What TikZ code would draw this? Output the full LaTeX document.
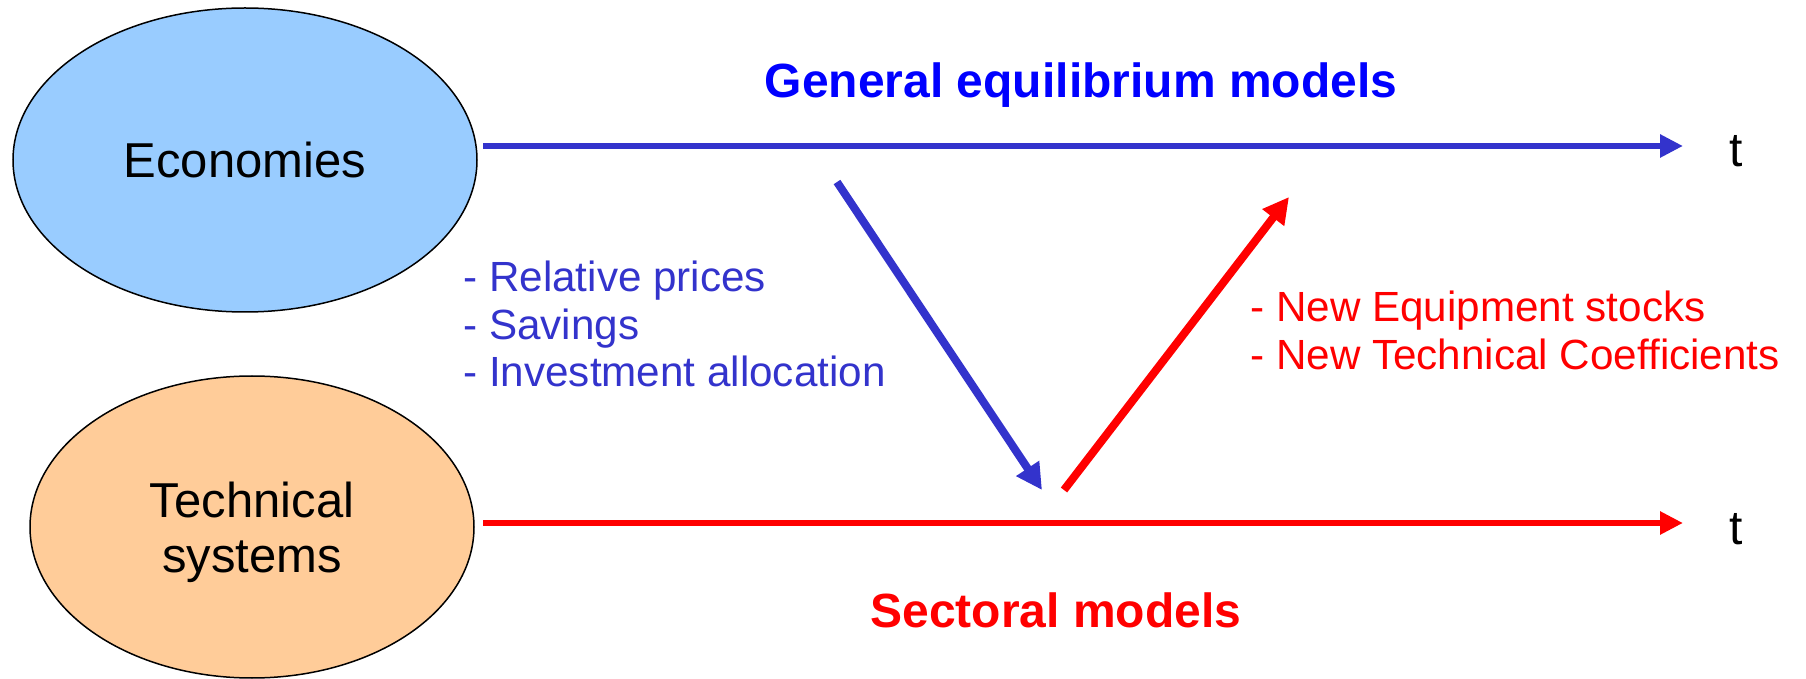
\documentclass[tikz,border=0pt]{standalone}
\usepackage{fontspec}
\setmainfont{Liberation Sans}
\usepackage{xcolor}
\usetikzlibrary{shapes.geometric}
\usetikzlibrary{arrows.meta}
\definecolor{lineblue}{RGB}{51,51,204}
\definecolor{skyfill}{RGB}{153,204,255}
\definecolor{peachfill}{RGB}{255,204,153}
\tikzstyle{blob} = [ellipse, draw=black, line width=0.75pt, align=center, font=\fontsize{24.5}{27.5}\selectfont]
\tikzstyle{timeline} = [line width=3.25pt, -{Triangle[length=11.5pt,width=11pt]}]
\tikzstyle{link} = [line width=4pt, -{Triangle[length=13pt,width=13pt]}]
\tikzstyle{items} = [inner sep=0pt, align=left, anchor=north west, font=\fontsize{21.1}{23.75}\selectfont]
\tikzstyle{heading} = [inner sep=0pt, anchor=base, font=\fontsize{24}{27}\selectfont\bfseries]
\tikzstyle{tick} = [inner sep=0pt, anchor=base, font=\fontsize{24}{27}\selectfont]

\begin{document}
\begin{tikzpicture}[x=0.5pt, y=-0.5pt]
    \useasboundingbox (0,0) rectangle (1806,679);
    % the two worlds
    \node[blob, fill=skyfill, minimum width=232pt, minimum height=152pt] (eco) at (245,160) {Economies};
    \node[blob, fill=peachfill, minimum width=222pt, minimum height=151pt] (tech) at (252,527) {};
    \node[align=center, font=\fontsize{24.5}{27.5}\selectfont] (techtext) at ([yshift=-2.5pt]tech.center) {Technical\\systems};

    % time axes
    \node[tick] (tgen) at (1736,167) {t};
    \node[tick] (tsec) at (1736,544) {t};
    \coordinate (gstart) at (483,146);
    \coordinate (gend) at (1683,146);
    \coordinate (sstart) at (483,523);
    \coordinate (send) at (1683,523);
    \draw[timeline, lineblue] (gstart) -- (gend);
    \draw[timeline, red] (sstart) -- (send);

    \node[heading, text=blue] (gem) at (1081,98) {General equilibrium models};
    \node[heading, text=red] (secm) at (1056,627) {Sectoral models};

    % exchanges between the models
    \coordinate (downfrom) at (837,182);
    \coordinate (downto) at (1042,490);
    \coordinate (upfrom) at (1064,490);
    \coordinate (upto) at (1289,197);
    \draw[link, lineblue] (downfrom) -- (downto);
    \draw[link, red] (upfrom) -- (upto);

    \node[items, text=lineblue] (prices) at (463,261) {- Relative prices\\- Savings\\- Investment allocation};
    \node[items, text=red] (stocks) at (1250,291) {- New Equipment stocks\\- New Technical Coefficients};
\end{tikzpicture}
\end{document}
